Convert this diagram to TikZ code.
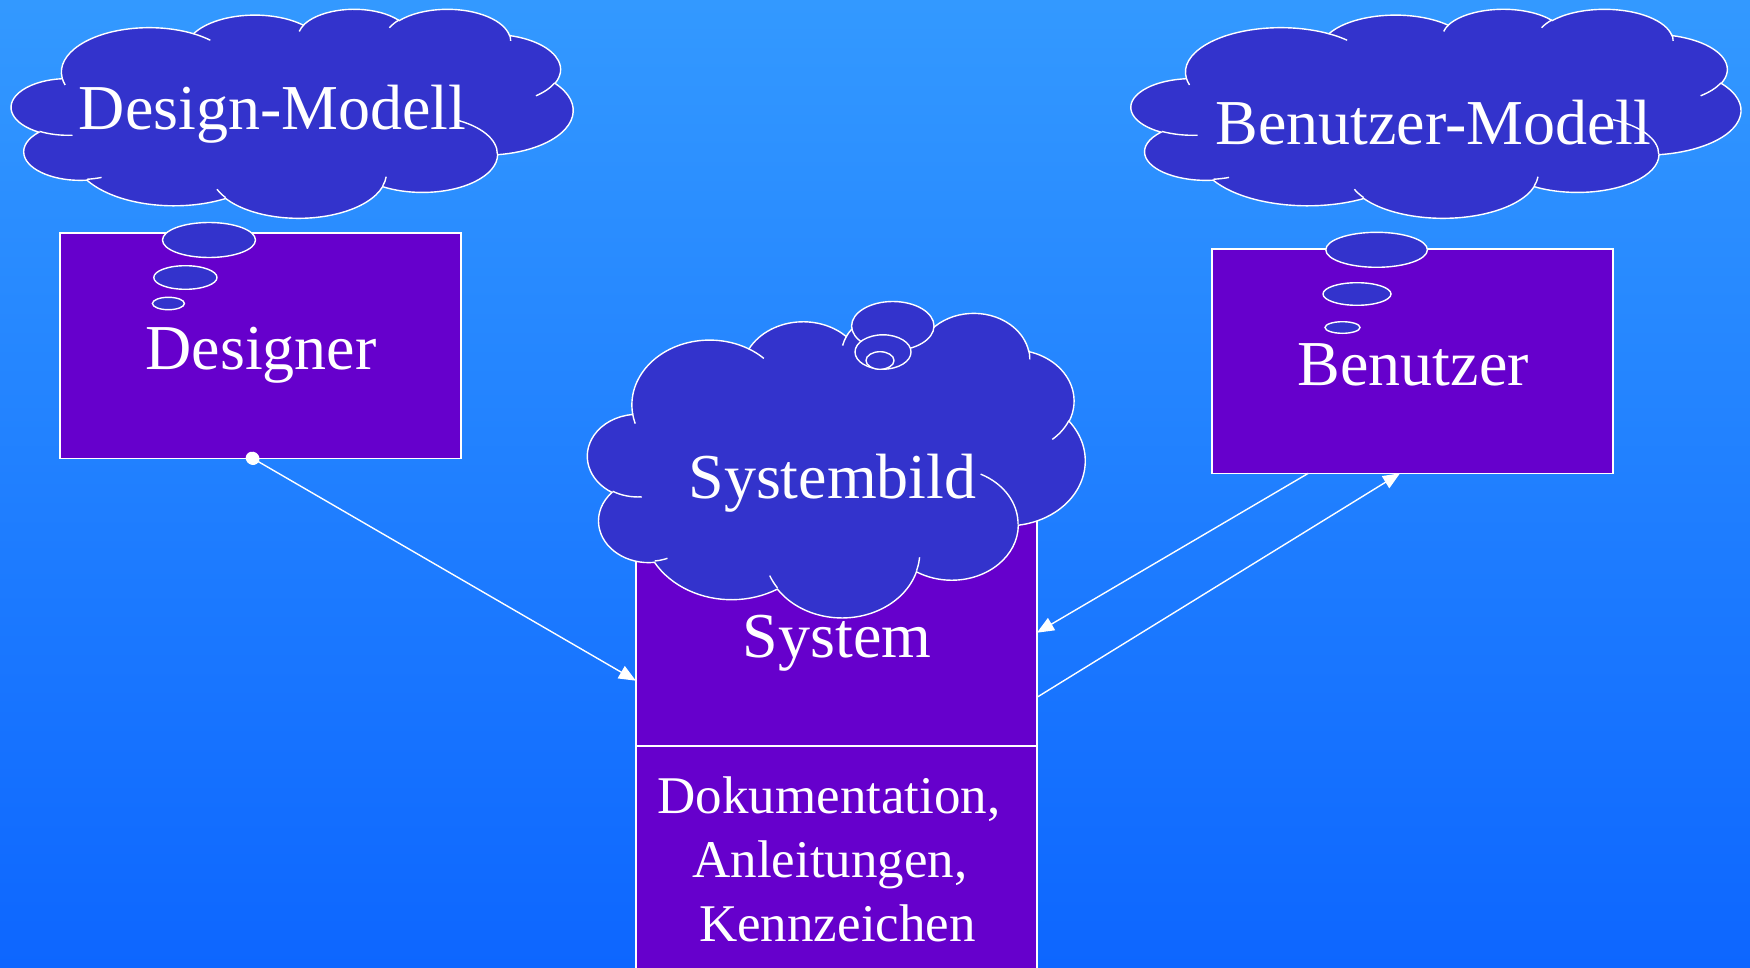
\documentclass[tikz,border=0pt]{standalone}
\usepackage{fontspec}
\setmainfont{Liberation Serif}
\usetikzlibrary{arrows.meta}
\definecolor{bgtop}{RGB}{51,153,255}
\definecolor{bgbot}{RGB}{13,102,255}
\definecolor{boxfill}{RGB}{102,0,204}
\definecolor{cloudfill}{RGB}{51,51,204}

% convert a DrawingML arc (visual angles) to parametric TikZ angles
\newcommand\ooprep[5]{%
  \pgfmathsetmacro\ooS{atan2((#2)*sin(#4),(#3)*cos(#4))}%
  \pgfmathsetmacro\ooE{atan2((#2)*sin((#4)+(#5)),(#3)*cos((#4)+(#5)))}%
  \pgfmathsetmacro\ooD{\ooE-\ooS}%
  \pgfmathsetmacro\ooD{(#5)>0 ? (\ooD<0 ? \ooD+360 : \ooD) : (\ooD>0 ? \ooD-360 : \ooD)}%
  \expandafter\xdef\csname oos#1\endcsname{\ooS}%
  \expandafter\xdef\csname ood#1\endcsname{\ooD}%
}

\newcommand\ooCloud[4]{%
  \pgfmathsetmacro\ooxs{#3/4320}%
  \pgfmathsetmacro\ooys{#4/4320}%
  \begin{scope}[shift={(#1,#2)}, x=\ooxs pt, y=-\ooys pt]
    \filldraw[cloudshape] (390,1437)
      arc[start angle=\oosA, delta angle=\oodA, x radius=675.3, y radius=919.0]
      arc[start angle=\oosB, delta angle=\oodB, x radius=533.3, y radius=726.7]
      arc[start angle=\oosC, delta angle=\oodC, x radius=436.5, y radius=594.5]
      arc[start angle=\oosD, delta angle=\oodD, x radius=485.7, y radius=659.5]
      arc[start angle=\oosE, delta angle=\oodE, x radius=533.3, y radius=727.3]
      arc[start angle=\oosF, delta angle=\oodF, x radius=677.5, y radius=922.0]
      arc[start angle=\oosG, delta angle=\oodG, x radius=578.5, y radius=786.7]
      arc[start angle=\oosH, delta angle=\oodH, x radius=675.2, y radius=921.5]
      arc[start angle=\oosI, delta angle=\oodI, x radius=772.0, y radius=1054.3]
      arc[start angle=\oosJ, delta angle=\oodJ, x radius=436.0, y radius=591.8]
      arc[start angle=\oosK, delta angle=\oodK, x radius=434.5, y radius=594.5]
      -- cycle;
    \draw[cloudinner]
      (469.3,2617.7) arc[start angle=\oosa, delta angle=\ooda, x radius=434.5, y radius=594.5]
      (692.8,3489.9) arc[start angle=\oosb, delta angle=\oodb, x radius=436.0, y radius=591.8]
      (1647.8,3909.0) arc[start angle=\oosc, delta angle=\oodc, x radius=675.2, y radius=921.5]
      (2882.7,3475.1) arc[start angle=\oosd, delta angle=\oodd, x radius=675.2, y radius=921.5]
      (3412.9,2295.4) arc[start angle=\oose, delta angle=\oode, x radius=578.5, y radius=786.7]
      (4179.8,1535.4) arc[start angle=\oosf, delta angle=\oodf, x radius=533.3, y radius=727.3]
      (3832.4,542.6) arc[start angle=\oosg, delta angle=\oodg, x radius=485.7, y radius=659.5]
      (2907.8,395.2) arc[start angle=\oosh, delta angle=\oodh, x radius=485.7, y radius=659.5]
      (2214.1,472.0) arc[start angle=\oosi, delta angle=\oodi, x radius=436.5, y radius=594.5]
      (1400.0,519.2) arc[start angle=\oosj, delta angle=\oodj, x radius=675.3, y radius=919.0]
      (412.7,1578.9) arc[start angle=\oosk, delta angle=\oodk, x radius=675.3, y radius=919.0];
  \end{scope}}

\begin{document}
\begin{tikzpicture}[x=1pt, y=-1pt,
  boxnode/.style={draw=white, fill=boxfill, line width=1.6pt, inner sep=0pt, outer sep=0pt},
  cloudshape/.style={fill=cloudfill, draw=white, line width=1.4pt},
  cloudinner/.style={draw=white, line width=1.4pt},
  bubble/.style={fill=cloudfill, draw=white, line width=1.4pt},
  arr/.style={draw=white, line width=1.4pt, -{Triangle[length=17pt, width=14pt]}},
  lbl/.style={text=white, inner sep=0pt, anchor=base, font=\fontsize{64pt}{72pt}\selectfont},
  smalllbl/.style={text=white, inner sep=0pt, anchor=base, font=\fontsize{53pt}{64pt}\selectfont}]

\ooprep{A}{675.3}{919.0}{-190.4875}{123.7805}
\ooprep{B}{533.3}{726.7}{-144.1024}{89.9452}
\ooprep{C}{436.5}{594.5}{-145.8079}{99.7230}
\ooprep{D}{485.7}{659.5}{-130.9861}{117.2417}
\ooprep{E}{533.3}{727.3}{-78.7089}{109.0269}
\ooprep{F}{677.5}{922.0}{-46.2673}{130.2690}
\ooprep{G}{578.5}{786.7}{0.6250}{114.0333}
\ooprep{H}{675.2}{921.5}{22.4516}{115.1726}
\ooprep{I}{772.0}{1054.3}{66.2426}{75.7110}
\ooprep{J}{436.0}{591.8}{-274.9421}{146.7356}
\ooprep{K}{434.5}{594.5}{-246.8285}{152.5189}
\ooprep{a}{434.5}{594.5}{86.7420}{26.4295}
\ooprep{b}{436.0}{591.8}{73.6105}{11.4475}
\ooprep{c}{675.2}{921.5}{137.6242}{14.0811}
\ooprep{d}{675.2}{921.5}{6.4533}{15.9984}
\ooprep{e}{578.5}{786.7}{-70.2924}{70.9174}
\ooprep{f}{533.3}{727.3}{30.3180}{27.7515}
\ooprep{g}{485.7}{659.5}{-13.7443}{14.8589}
\ooprep{h}{485.7}{659.5}{-149.1815}{18.1954}
\ooprep{i}{436.5}{594.5}{-163.4943}{17.6864}
\ooprep{j}{675.3}{919.0}{-66.7070}{12.3194}
\ooprep{k}{675.3}{919.0}{157.6544}{11.8582}

\useasboundingbox (0,0) rectangle (1750,968);
\clip (0,0) rectangle (1750,968);
\shade[top color=bgtop, bottom color=bgbot] (0,0) rectangle (1750,968);

% boxes
\node[boxnode, minimum width=401pt, minimum height=225pt] (designer) at (260.3,345.8) {};
\node[boxnode, minimum width=401pt, minimum height=224pt] (benutzer) at (1412.7,361.3) {};
\node[boxnode, minimum width=401pt, minimum height=230.7pt] (system) at (836.4,630.4) {};
\node[boxnode, minimum width=401pt, minimum height=244.3pt] (docs) at (836.4,867.9) {};

% clouds
\ooCloud{11.5}{8.6}{561.5}{209}
\ooCloud{1131.3}{8.6}{609.5}{209}
\ooCloud{587.7}{312.3}{497.4}{304.6}

% thought bubbles
\draw[bubble] (209,240) ellipse [x radius=46.5, y radius=17.5];
\draw[bubble] (185.4,277.5) ellipse [x radius=31.6, y radius=11.8];
\draw[bubble] (168.4,303.5) ellipse [x radius=16, y radius=6.2];
\draw[bubble] (1376.6,249.8) ellipse [x radius=50.8, y radius=17.5];
\draw[bubble] (1357,294) ellipse [x radius=34, y radius=11.3];
\draw[bubble] (1342.5,327.5) ellipse [x radius=17.5, y radius=5.8];
\draw[bubble] (892.8,326) ellipse [x radius=41.2, y radius=24.5];
\draw[bubble] (883,352) ellipse [x radius=28, y radius=17.2];
\draw[bubble] (880,360.5) ellipse [x radius=14, y radius=8.8];

% connectors
\draw[arr, {Circle[length=14pt, width=13pt]}-{Triangle[length=17pt, width=14pt]}, shorten <=-7pt]
  ([xshift=-7.7pt]designer.south) -- ([yshift=-50.3pt]system.west);
\draw[arr] ([xshift=-104.4pt]benutzer.south) -- ([yshift=-2.3pt]system.east);
\draw[arr] ([yshift=-66.9pt]system.east) -- ([xshift=-12.7pt]benutzer.south);

% labels
\node[lbl] (dmlbl) at (272.7,129.3) {Design-Modell};
\node[lbl] (designerlbl) at (261.2,369.3) {Designer};
\node[lbl] (sblbl) at (832.5,498.3) {Systembild};
\node[lbl] (syslbl) at (837,657.7) {System};
\node[lbl] (bmlbl) at (1433.4,145) {Benutzer-Modell};
\node[lbl] (benlbl) at (1413.3,385) {Benutzer};
\node[smalllbl] (doc1) at (829,813.3) {Dokumentation,};
\node[smalllbl] (doc2) at (830,877.7) {Anleitungen,};
\node[smalllbl] (doc3) at (837.5,941) {Kennzeichen};
\end{tikzpicture}
\end{document}
